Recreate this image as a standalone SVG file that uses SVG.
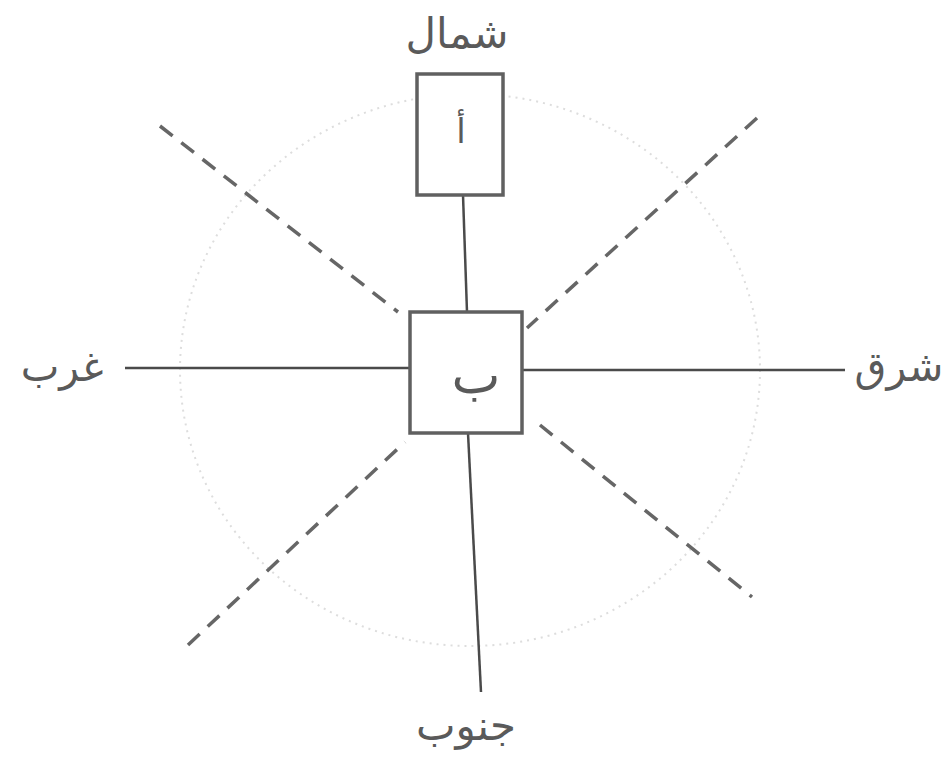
<svg xmlns="http://www.w3.org/2000/svg" width="945" height="765" viewBox="0 0 945 765">
<style>
.box{fill:#fff;stroke:#606060;stroke-width:3.5}
.ln{stroke:#4a4a4a;stroke-width:2.5;fill:none}
.dash{stroke:#666;stroke-width:3.5;stroke-dasharray:16 11;fill:none}
.lbl{font-family:"DejaVu Sans","Noto Sans",sans-serif;fill:#5a5a5a;text-anchor:middle}
</style>
<rect width="945" height="765" fill="#fff"/>
<ellipse cx="470" cy="370" rx="290" ry="276" fill="none" stroke="#ddd" stroke-width="2" stroke-dasharray="2 5"/>
<g id="connectors">
<line class="dash" x1="160" y1="126" x2="398" y2="312"/>
<line class="dash" x1="757" y1="118" x2="527" y2="328"/>
<line class="dash" x1="188" y1="645" x2="405" y2="442"/>
<line class="dash" x1="540" y1="425" x2="752" y2="597"/>
<line class="ln" x1="463" y1="195" x2="467" y2="312"/>
<line class="ln" x1="468" y1="433" x2="481" y2="692"/>
<line class="ln" x1="125" y1="368" x2="409" y2="368"/>
<line class="ln" x1="523" y1="370" x2="845" y2="370"/>
</g>
<g id="A">
<rect class="box" x="417" y="74" width="86" height="121"/>
<text class="lbl" x="461" y="143" font-size="34">أ</text>
</g>
<g id="B">
<rect class="box" x="410" y="312" width="112" height="121"/>
<text class="lbl" x="476" y="393" font-size="52">ب</text>
</g>
<g id="north"><text class="lbl" x="457" y="48" font-size="42">شمال</text></g>
<g id="south"><text class="lbl" x="466" y="740" font-size="42">جنوب</text></g>
<g id="west"><text class="lbl" x="62" y="381" font-size="41">غرب</text></g>
<g id="east"><text class="lbl" x="899" y="381" font-size="41">شرق</text></g>
</svg>
